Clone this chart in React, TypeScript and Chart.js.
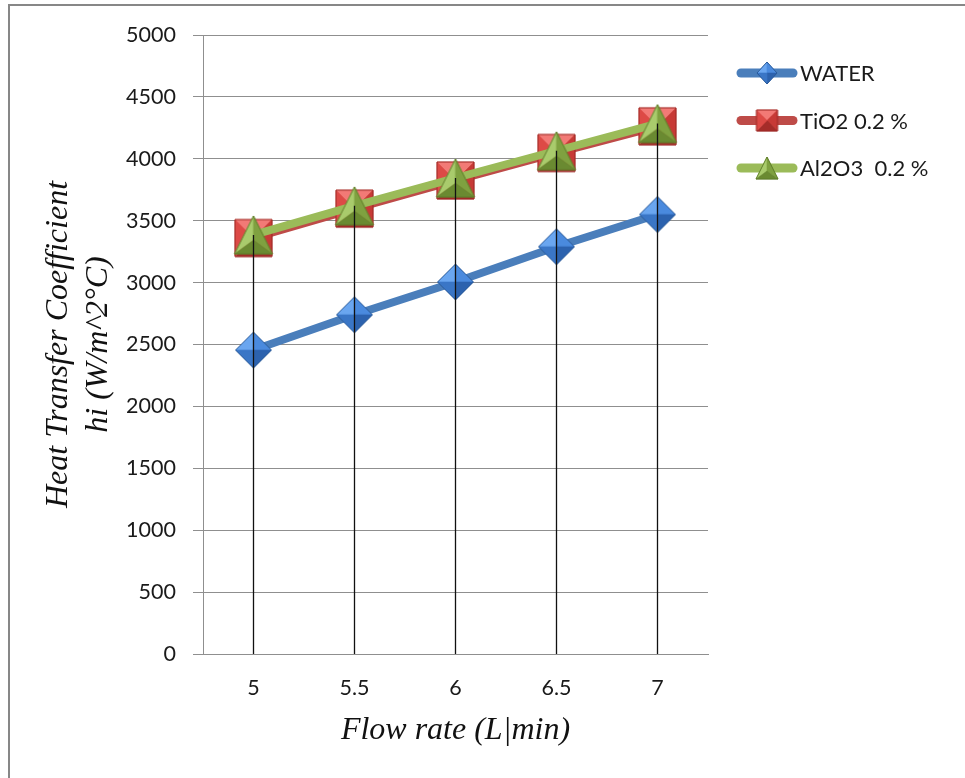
import React, { useEffect, useRef } from 'react';
import { Chart, registerables } from 'chart.js';

Chart.register(...registerables);

// ---- data ----
const flowRates = ['5', '5.5', '6', '6.5', '7'];
const waterValues = [2455, 2740, 3005, 3290, 3550];
const tio2Values = [3360, 3598, 3825, 4047, 4262];
const al2o3Values = [3385, 3620, 3845, 4065, 4285];
const seriesNames = ['WATER', 'TiO2 0.2 %', 'Al2O3  0.2 %'];
const yMin = 0;
const yMax = 5000;
const yStep = 500;
const xTitle = 'Flow rate (L|min)';
const yTitle = ['Heat Transfer Coefficient', 'hi (W/m^2\u00B0C)'];

type Pt = [number, number];

function makeMarker(
  shape: 'diamond' | 'square' | 'triangle',
  w: number,
  h: number,
  colors: string[],
  edge: string
): HTMLCanvasElement {
  const pad = 2;
  const c = document.createElement('canvas');
  c.width = w + pad * 2;
  c.height = h + pad * 2;
  const ctx = c.getContext('2d')!;
  const x0 = pad;
  const y0 = pad;
  const cx = pad + w / 2;
  const cy = pad + h / 2;
  let outline: Pt[];
  let facets: Pt[][];
  if (shape === 'diamond') {
    const T: Pt = [cx, y0], R: Pt = [x0 + w, cy], B: Pt = [cx, y0 + h], L: Pt = [x0, cy], C: Pt = [cx, cy];
    outline = [T, R, B, L];
    facets = [[L, T, C], [T, R, C], [R, B, C], [B, L, C]];
  } else if (shape === 'square') {
    const TL: Pt = [x0, y0], TR: Pt = [x0 + w, y0], BR: Pt = [x0 + w, y0 + h], BL: Pt = [x0, y0 + h], C: Pt = [cx, cy];
    outline = [TL, TR, BR, BL];
    facets = [[TL, TR, C], [TR, BR, C], [BR, BL, C], [BL, TL, C]];
  } else {
    const T: Pt = [cx, y0], BR: Pt = [x0 + w, y0 + h], BL: Pt = [x0, y0 + h], C: Pt = [cx, y0 + h * 0.64];
    outline = [T, BR, BL];
    facets = [[BL, T, C], [T, BR, C], [BR, BL, C]];
  }
  facets.forEach((f, i) => {
    ctx.beginPath();
    ctx.moveTo(f[0][0], f[0][1]);
    for (let k = 1; k < f.length; k++) ctx.lineTo(f[k][0], f[k][1]);
    ctx.closePath();
    ctx.fillStyle = colors[i];
    ctx.fill();
    ctx.strokeStyle = colors[i];
    ctx.lineWidth = 0.6;
    ctx.stroke();
  });
  ctx.beginPath();
  ctx.moveTo(outline[0][0], outline[0][1]);
  for (let k = 1; k < outline.length; k++) ctx.lineTo(outline[k][0], outline[k][1]);
  ctx.closePath();
  ctx.strokeStyle = edge;
  ctx.lineWidth = 1;
  ctx.stroke();
  return c;
}

const blueFacets = ['#6aa6f0', '#4a8ade', '#2c62ae', '#3a76c6'];
const redFacets = ['#f27a76', '#c73a36', '#a52c29', '#dd4a46'];
const greenFacets = ['#a9cb6c', '#7fa140', '#6a8a31'];

export default function App() {
  const ref = useRef<HTMLCanvasElement | null>(null);

  useEffect(() => {
    if (!ref.current) return;

    const markers = [
      makeMarker('diamond', 36, 36, blueFacets, '#2a5a98'),
      makeMarker('square', 37, 37, redFacets, '#9c2a27'),
      makeMarker('triangle', 38, 38, greenFacets, '#5f7d2a'),
    ];
    const legendMarkers = [
      makeMarker('diamond', 20, 22, blueFacets, '#2a5a98'),
      makeMarker('square', 21, 21, redFacets, '#9c2a27'),
      makeMarker('triangle', 22, 22, greenFacets, '#5f7d2a'),
    ];
    const lineColors = ['#4a7ebb', '#be4b48', '#9bbb59'];
    const values = [waterValues, tio2Values, al2o3Values];
    const orders = [2, 1, 0];

    const framePlugin = {
      id: 'frame',
      beforeDraw(chart: any) {
        const ctx = chart.ctx;
        ctx.save();
        ctx.fillStyle = '#ffffff';
        ctx.fillRect(0, 0, chart.width, chart.height);
        ctx.strokeStyle = '#878787';
        ctx.lineWidth = 2;
        ctx.beginPath();
        ctx.moveTo(9, chart.height + 5);
        ctx.lineTo(9, 5);
        ctx.lineTo(chart.width + 5, 5);
        ctx.stroke();
        ctx.restore();
      },
    };

    const dropLinesPlugin = {
      id: 'dropLines',
      afterDatasetsDraw(chart: any) {
        const ctx = chart.ctx;
        const bottom = chart.chartArea.bottom;
        const n = chart.data.labels.length;
        ctx.save();
        ctx.strokeStyle = '#111111';
        ctx.lineWidth = 1.3;
        for (let i = 0; i < n; i++) {
          let top = Infinity;
          let x = 0;
          chart.data.datasets.forEach((_d: any, di: number) => {
            const el = chart.getDatasetMeta(di).data[i];
            if (el && el.y < top) {
              top = el.y;
              x = el.x;
            }
          });
          ctx.beginPath();
          ctx.moveTo(x, top);
          ctx.lineTo(x, bottom);
          ctx.stroke();
        }
        ctx.restore();
      },
    };

    const legendPlugin = {
      id: 'customLegend',
      afterDraw(chart: any) {
        const ctx = chart.ctx;
        const x0 = chart.chartArea.right + 29;
        const lineLen = 60;
        const startY = 73;
        const step = 47.5;
        ctx.save();
        chart.data.datasets.forEach((ds: any, i: number) => {
          const y = startY + i * step;
          ctx.strokeStyle = ds.borderColor;
          ctx.lineWidth = 9;
          ctx.lineCap = 'round';
          ctx.beginPath();
          ctx.moveTo(x0 + 4, y);
          ctx.lineTo(x0 + lineLen - 4, y);
          ctx.stroke();
          const m = legendMarkers[i];
          ctx.drawImage(m, x0 + lineLen / 2 - m.width / 2, y - m.height / 2);
          ctx.fillStyle = '#1a1a1a';
          ctx.font = '22px Lato';
          ctx.textBaseline = 'middle';
          ctx.textAlign = 'left';
          ctx.fillText(ds.label, x0 + lineLen + 3, y + 1);
        });
        ctx.restore();
      },
    };

    const chart = new Chart(ref.current, {
      type: 'line',
      data: {
        labels: flowRates,
        datasets: seriesNames.map((name, i) => ({
          label: name,
          data: values[i],
          borderColor: lineColors[i],
          backgroundColor: lineColors[i],
          borderWidth: 8,
          tension: 0,
          fill: false,
          pointStyle: markers[i] as any,
          pointRadius: 18,
          order: orders[i],
        })),
      },
      options: {
        animation: false,
        responsive: false,
        devicePixelRatio: 1,
        layout: { padding: { left: 10, top: 35, right: 257, bottom: 10 } },
        plugins: {
          legend: { display: false },
          tooltip: { enabled: false },
        },
        scales: {
          x: {
            type: 'category',
            offset: true,
            grid: { display: false, drawTicks: false },
            border: { display: true, color: '#8f8f8f', width: 1 },
            ticks: {
              color: '#1a1a1a',
              font: { family: 'Lato', size: 21.5 },
              padding: 21,
            },
            title: {
              display: true,
              text: xTitle,
              color: '#111111',
              font: { family: 'Liberation Serif', size: 32, style: 'italic', lineHeight: 1.2 },
              padding: { top: 0, bottom: 18 },
            },
            afterFit: (s: any) => {
              s.height = 114;
            },
          },
          y: {
            min: yMin,
            max: yMax,
            grid: { color: '#8f8f8f', lineWidth: 1, drawTicks: true, tickLength: 10 },
            border: { display: true, color: '#8f8f8f', width: 1 },
            ticks: {
              stepSize: yStep,
              color: '#1a1a1a',
              font: { family: 'Lato', size: 21.5 },
              padding: 17,
              callback: (v: any) => String(v),
            },
            title: {
              display: true,
              text: yTitle,
              color: '#111111',
              font: { family: 'Liberation Serif', size: 32, style: 'italic', lineHeight: 1.25 },
              padding: { top: 29, bottom: 0 },
            },
            afterFit: (s: any) => {
              s.width = 193;
            },
          },
        },
      },
      plugins: [framePlugin, dropLinesPlugin, legendPlugin],
    });

    return () => chart.destroy();
  }, []);

  return (
    <div style={{ position: 'absolute', left: 0, top: 0, width: 965, height: 778 }}>
      <canvas ref={ref} width={965} height={778} />
    </div>
  );
}
